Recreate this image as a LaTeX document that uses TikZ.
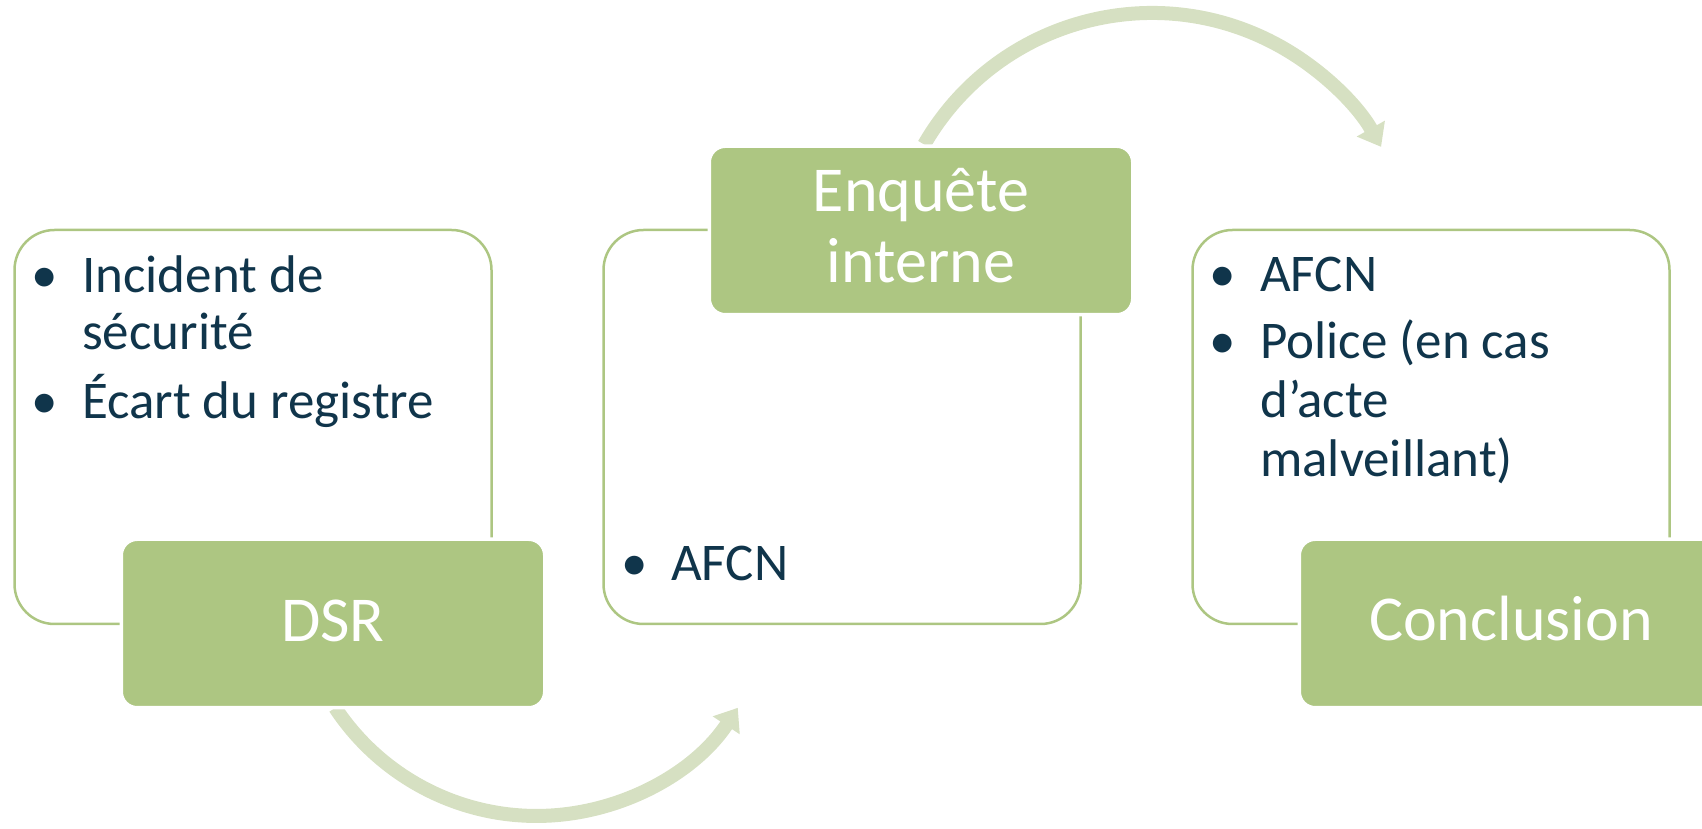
\documentclass[tikz,border=0pt]{standalone}
\usepackage{fontspec}
\setmainfont{Carlito}
\usetikzlibrary{arrows.meta}
\definecolor{pgreen}{RGB}{173,198,130}
\definecolor{agreen}{RGB}{214,224,194}
\definecolor{navy}{RGB}{16,53,75}
\tikzset{
  panel/.style={draw=pgreen, line width=2.5pt, rounded corners=40pt, minimum width=477pt, minimum height=394pt, inner sep=0pt},
  tag/.style={fill=pgreen, draw=white, line width=3.5pt, rounded corners=16pt, minimum width=423.5pt, minimum height=168.5pt, inner sep=0pt},
  itm/.style={anchor=base west, inner sep=0pt, text=navy, font=\fontsize{53}{57}\selectfont},
  bul/.style={anchor=base, inner sep=0pt, text=navy, font=\fontsize{53}{57}\selectfont},
  lbl/.style={anchor=base, inner sep=0pt, text=white, font=\fontsize{64}{71}\selectfont},
  arr/.style={draw=agreen, line width=14pt, -{Triangle[length=21pt,width=31pt]}}
}
\begin{document}
\begin{tikzpicture}[x=1pt,y=1pt]
\useasboundingbox (0,0) rectangle (1702,829);
% arrows
\coordinate (a1s) at (335.2,121.2);
\coordinate (a2s) at (924.2,684.5);
\draw[arr] (a1s) arc[start angle=213.5, end angle=326.5, radius=241.4pt];
\draw[arr] (a2s) arc[start angle=150, end angle=29.4, radius=263pt];
% panels
\node[panel] (p1) at (253,402) {};
\node[panel] (p2) at (842,402) {};
\node[panel] (p3) at (1431,402) {};
% tags
\node[tag] (t1) at (333,205.5) {};
\node[tag] (t2) at (921,598.5) {};
\node[tag] (t3) at (1511,205.5) {};
\node[lbl] (l1) at (333,187) {DSR};
\node[lbl] (l2a) at (921,617) {Enquête};
\node[lbl] (l2b) at (921,546) {interne};
\node[lbl] (l3) at (1511,188) {Conclusion};
% panel 1 text
\node[bul] (b1a) at (45,536) {•};
\node[itm] (i1a) at (82,536) {Incident de};
\node[itm] (i1b) at (82,479) {sécurité};
\node[bul] (b1b) at (45,410) {•};
\node[itm] (i1c) at (82,410) {Écart du registre};
% panel 2 text
\node[bul] (b2a) at (635,248) {•};
\node[itm] (i2a) at (671,248) {AFCN};
% panel 3 text
\node[bul] (b3a) at (1223,537) {•};
\node[itm] (i3a) at (1260,537) {AFCN};
\node[bul] (b3b) at (1223,470) {•};
\node[itm] (i3b) at (1260,470) {Police (en cas};
\node[itm] (i3c) at (1260,411) {d’acte};
\node[itm] (i3d) at (1260,352) {malveillant)};
\end{tikzpicture}
\end{document}
